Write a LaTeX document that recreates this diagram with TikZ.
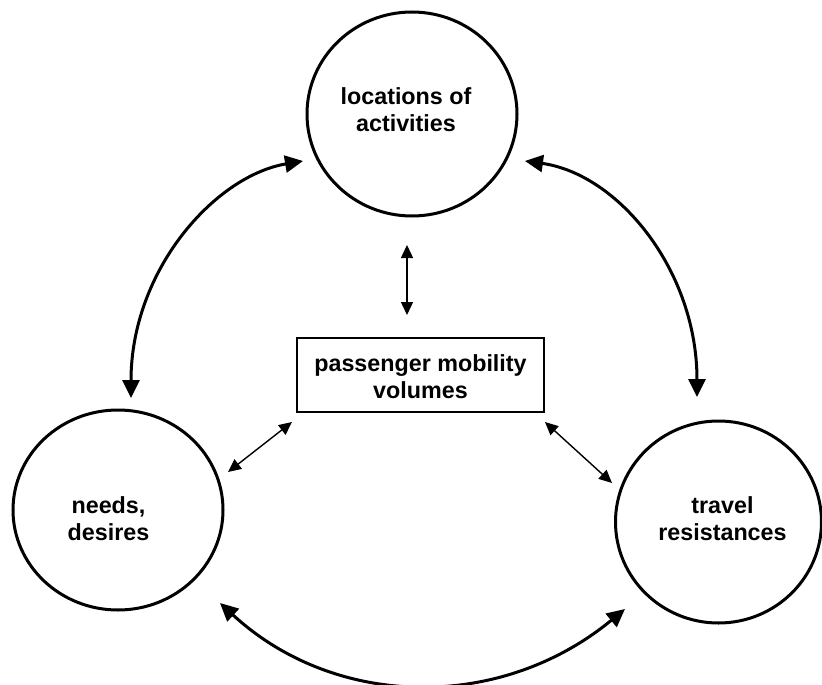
\documentclass[tikz,border=0pt]{standalone}
\usepackage{fontspec}
\setmainfont{Liberation Sans}
\usetikzlibrary{shapes.geometric,arrows.meta}
\begin{document}
\begin{tikzpicture}[x=1pt,y=-1pt,
  circ/.style={draw, ellipse, line width=3pt, inner sep=0pt},
  lbl/.style={align=center, font=\bfseries\fontsize{23.3}{27}\selectfont, inner sep=0pt},
  boxnode/.style={draw, rectangle, line width=2pt, minimum width=247pt, minimum height=74pt, inner sep=0pt},
  bigarrow/.style={line width=3pt, {Triangle[length=18pt,width=17pt]}-{Triangle[length=18pt,width=17pt]}},
  smallarrow/.style={line width=1.4pt, {Triangle[length=13pt,width=12pt]}-{Triangle[length=13pt,width=12pt]}}
]
\useasboundingbox (0,0) rectangle (822,685);
% circles
\node[circ, minimum width=210pt, minimum height=204pt] (top) at (412,114) {};
\node[circ, minimum width=210pt, minimum height=200pt] (left) at (118,510) {};
\node[circ, minimum width=206pt, minimum height=202pt] (right) at (718.5,522) {};
% labels
\node[lbl] (toptxt) at (406,110) {locations of\\activities};
\node[lbl] (lefttxt) at (108.5,518.5) {needs,\\desires};
\node[lbl] (righttxt) at (722.5,518.5) {travel\\resistances};
\node[boxnode] (box) at (420.5,375) {};
\node[lbl] (boxtxt) at (420.5,376.5) {passenger mobility\\volumes};
% arrow ends
\coordinate (tlA) at (131,398);
\coordinate (tlB) at (303,161);
\coordinate (trA) at (525,161);
\coordinate (trB) at (697,397);
\coordinate (bA) at (220,603);
\coordinate (bB) at (625,609);
\coordinate (vA) at (407,245);
\coordinate (vB) at (407,315);
\coordinate (blA) at (292,422);
\coordinate (blB) at (228,472);
\coordinate (brA) at (545,422);
\coordinate (brB) at (612,483);
% curved arrows
\draw[bigarrow] (tlA) .. controls (131,270) and (215,176) .. (tlB);
\draw[bigarrow] (trA) .. controls (618,174) and (697,270) .. (trB);
\draw[bigarrow] (bA) .. controls (335,709) and (500,712) .. (bB);
% small arrows
\draw[smallarrow] (vA) -- (vB);
\draw[smallarrow] (blA) -- (blB);
\draw[smallarrow] (brA) -- (brB);
\end{tikzpicture}
\end{document}
